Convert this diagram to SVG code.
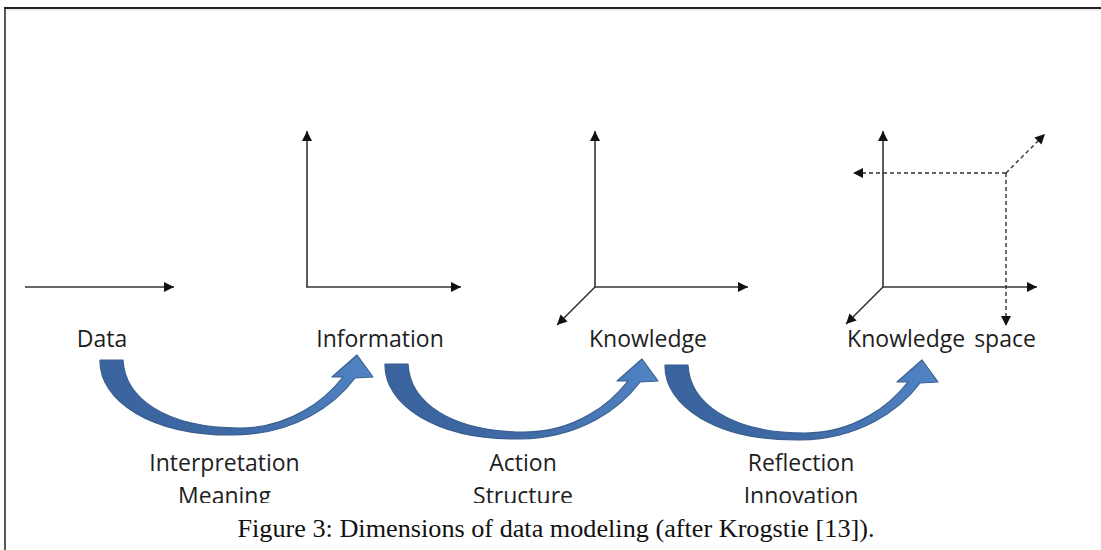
<svg xmlns="http://www.w3.org/2000/svg" width="1101" height="550" viewBox="0 0 1101 550">
  <style>
    .ax { stroke: #333; stroke-width: 1.6; fill: none; marker-end: url(#ah); }
    .dash { stroke: #333; stroke-width: 1.4; fill: none; stroke-dasharray: 4 3; marker-end: url(#ah); }
    .lbl { font-family: "Open Sans", "Liberation Sans", sans-serif; font-size: 23px; fill: #1e1e1e; text-anchor: middle; }
    .cap { font-family: "Liberation Serif", "Times New Roman", serif; font-size: 26px; fill: #111; text-anchor: middle; }
    .curve { fill: url(#blue); stroke: #3a5f8f; stroke-width: 1.2; stroke-linejoin: round; }
  </style>
  <defs>
    <marker id="ah" viewBox="0 0 10 10" refX="10" refY="5" markerWidth="11" markerHeight="10" markerUnits="userSpaceOnUse" orient="auto">
      <path d="M0,0 L10,5 L0,10 z" fill="#111"/>
    </marker>
    <linearGradient id="blue" x1="0" y1="0" x2="1" y2="0">
      <stop offset="0" stop-color="#3a639e"/>
      <stop offset="0.5" stop-color="#3f6aa6"/>
      <stop offset="1" stop-color="#5184c4"/>
    </linearGradient>
    <clipPath id="clipLow">
      <rect x="0" y="0" width="1101" height="503"/>
    </clipPath>
    <path id="curveShape" d="M100,360 L123,360 C125,398 165,428 240,428 C290,428 325,400 343,377 L332,377 L357,355 L373,377 L355,378 C335,405 295,434 235,435 C150,436 99,400 100,360 Z"/>
  </defs>

  <rect x="0" y="0" width="1101" height="550" fill="#fff"/>

  <g id="frame">
    <line x1="4" y1="8" x2="1101" y2="8" stroke="#222" stroke-width="2"/>
    <line x1="5" y1="8" x2="5" y2="550" stroke="#222" stroke-width="1.5"/>
    <line x1="7" y1="10" x2="1101" y2="10" stroke="#ddd" stroke-width="1"/>
  </g>

  <g id="data">
    <line class="ax" x1="25" y1="287" x2="174" y2="287"/>
    <text class="lbl" x="102" y="347">Data</text>
  </g>

  <g id="information">
    <line class="ax" x1="307" y1="287" x2="307" y2="131"/>
    <line class="ax" x1="306" y1="287" x2="461" y2="287"/>
    <text class="lbl" x="380" y="347">Information</text>
  </g>

  <g id="knowledge">
    <line class="ax" x1="595" y1="287" x2="595" y2="131"/>
    <line class="ax" x1="594" y1="287" x2="748" y2="287"/>
    <line class="ax" x1="595" y1="287" x2="557" y2="325"/>
    <text class="lbl" x="648" y="347">Knowledge</text>
  </g>

  <g id="knowledge-space">
    <line class="ax" x1="883" y1="287" x2="883" y2="131"/>
    <line class="ax" x1="882" y1="287" x2="1037" y2="287"/>
    <line class="ax" x1="883" y1="287" x2="846" y2="324"/>
    <line class="dash" x1="1006" y1="173" x2="853" y2="173"/>
    <line class="dash" x1="1006" y1="173" x2="1006" y2="326"/>
    <line class="dash" x1="1006" y1="173" x2="1045" y2="134"/>
    <text class="lbl" x="941.5" y="347" word-spacing="3">Knowledge space</text>
  </g>

  <g id="connectors">
    <use href="#curveShape" class="curve"/>
    <use href="#curveShape" class="curve" transform="translate(285,4)"/>
    <use href="#curveShape" class="curve" transform="translate(565,5)"/>
  </g>

  <g id="transition-labels" clip-path="url(#clipLow)">
    <g id="label-interpretation">
      <text class="lbl" x="224.5" y="471">Interpretation</text>
      <text class="lbl" x="224.5" y="504">Meaning</text>
    </g>
    <g id="label-action">
      <text class="lbl" x="523" y="471">Action</text>
      <text class="lbl" x="523" y="504">Structure</text>
    </g>
    <g id="label-reflection">
      <text class="lbl" x="801" y="471">Reflection</text>
      <text class="lbl" x="801" y="504">Innovation</text>
    </g>
  </g>

  <g id="caption">
    <text class="cap" x="556" y="537" textLength="637" lengthAdjust="spacingAndGlyphs">Figure 3: Dimensions of data modeling (after Krogstie [13]).</text>
  </g>
</svg>
